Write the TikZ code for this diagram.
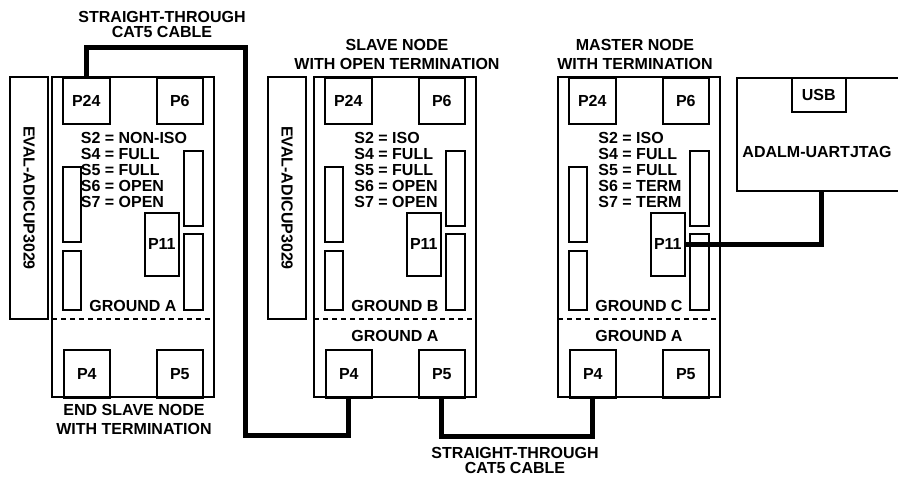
\documentclass[tikz,border=0pt]{standalone}
\usepackage{fontspec}
\setmainfont{Liberation Sans}

\begin{document}
\begin{tikzpicture}[x=1pt,y=-1pt,line width=1.6pt,
    font=\fontsize{16}{16}\selectfont\bfseries,
    part/.style={draw,inner sep=0pt,anchor=north west},
    cable/.style={line width=5pt}]
    \useasboundingbox (0,0) rectangle (898,478);
    \clip (0,0) rectangle (898,478);
    % Draw the three boards
    \foreach \n/\x/\iso/\term/\gnd in {a/52/NON-ISO/OPEN/A,b/314/ISO/OPEN/B,c/558/ISO/TERM/C}{
        \draw (\x,77) rectangle (\x+162,397);
        \draw[dash pattern=on 5pt off 4pt] (\x,319) -- (\x+162,319); % ground split
        \node[part,minimum width=47pt,minimum height=46pt] (p24\n) at (\x+10,77) {P24};
        \node[part,minimum width=46pt,minimum height=46pt] (p6\n) at (\x+104,77) {P6};
        \node[part,minimum width=46pt,minimum height=48pt] (p4\n) at (\x+11,349) {P4};
        \node[part,minimum width=46pt,minimum height=48pt] (p5\n) at (\x+104,349) {P5};
        \node[part,minimum width=34pt,minimum height=63pt] (p11\n) at (\x+92,212) {P11};
        % headers
        \draw (\x+11,167) rectangle (\x+29,242);
        \draw (\x+11,251) rectangle (\x+29,310);
        \draw (\x+132,151) rectangle (\x+151,226);
        \draw (\x+132,234) rectangle (\x+151,310);
        \node[align=left] (set\n) at (\x+82,170) {S2 = \iso\\S4 = FULL\\S5 = FULL\\S6 = \term\\S7 = \term};
        \node (gnd\n) at (\x+81,306) {GROUND \gnd};
    }
    \node (gndab) at (395,336) {GROUND A};
    \node (gndac) at (639,336) {GROUND A};
    % Draw titles
    \node[align=center] (enda) at (134,419) {END SLAVE NODE\\[3pt]WITH TERMINATION};
    \node[align=center] (slaveb) at (397,54) {SLAVE NODE\\[3pt]WITH OPEN TERMINATION};
    \node[align=center] (masterc) at (635,54) {MASTER NODE\\[3pt]WITH TERMINATION};
    % Draw EVAL boards
    \node[draw,rotate=-90,minimum width=242pt,minimum height=38pt] (evala) at (29,198) {EVAL-ADICUP3029};
    \node[draw,rotate=-90,minimum width=242pt,minimum height=38pt] (evalb) at (287,198) {EVAL-ADICUP3029};
    % Draw ADALM-UARTJTAG
    \node[part,minimum width=170pt,minimum height=113pt] (adalm) at (736,77) {};
    \node[part,minimum width=54pt,minimum height=34pt] (usb) at (791,77) {USB};
    \node (uart) at (817,152) {ADALM-UARTJTAG};
    % Draw cables
    \draw[cable] (p24a.north) -- ++(0,-29) -| (245,436) -| (p4b.south);
    \draw[cable] (p5b.south) -- ++(0,38) -| (p4c.south);
    \draw[cable] (p11c.east) -| (adalm.south);
    \node[align=center] (cabletop) at (162,24) {STRAIGHT-THROUGH\\[-1pt]CAT5 CABLE};
    \node[align=center] (cablebot) at (515,460) {STRAIGHT-THROUGH\\[-1pt]CAT5 CABLE};
\end{tikzpicture}
\end{document}
